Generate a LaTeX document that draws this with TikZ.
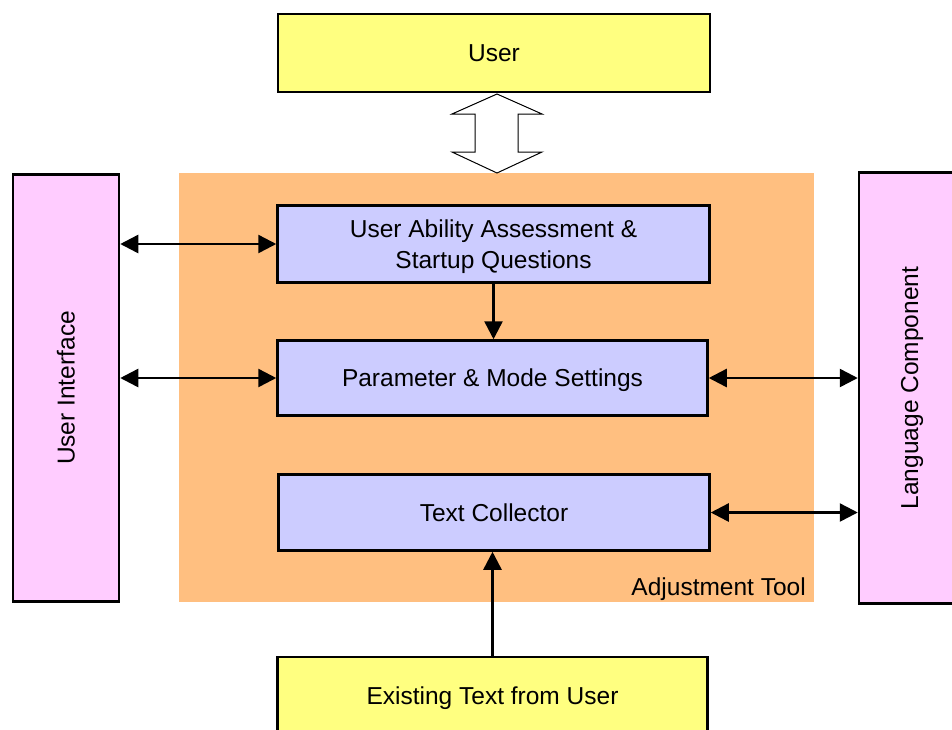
\documentclass[tikz,border=0pt]{standalone}
\usepackage{fontspec}
\setmainfont{Liberation Sans}
\usetikzlibrary{arrows.meta,calc}
\definecolor{userfill}{RGB}{255,255,128}
\definecolor{modfill}{RGB}{204,204,255}
\definecolor{sidefill}{RGB}{255,204,255}
\definecolor{toolfill}{RGB}{255,191,128}
\begin{document}
\begin{tikzpicture}[x=1pt,y=-1pt,
  box/.style={draw=black, line width=2.5pt, inner sep=0pt, align=center, text depth=0pt,
    font=\fontsize{24.5}{31}\selectfont},
  biarrow/.style={line width=2.5pt, {Triangle[length=18pt,width=18pt]}-{Triangle[length=18pt,width=18pt]}},
  onearrow/.style={line width=2.5pt, -{Triangle[length=18pt,width=18pt]}}
]
\useasboundingbox (0,0) rectangle (952,729);
\begin{scope}
\clip (0,0) rectangle (952,729);

% Adjustment tool area
\fill[toolfill] (179,173) rectangle (814,602);
\node[anchor=base east, inner sep=0pt, font=\fontsize{24.5}{31}\selectfont] (tooltitle) at (806,595) {Adjustment Tool};

% outer boxes
\node[box, fill=userfill, minimum width=432pt, minimum height=78pt] (user) at (494,53) {User};
\node[box, fill=userfill, minimum width=430pt, minimum height=78pt] (existing) at (492.5,696) {Existing Text from User};
\node[box, fill=sidefill, minimum width=106pt, minimum height=427pt] (ui) at (66,388) {\rotatebox{90}{User Interface}};
\node[box, fill=sidefill, minimum width=106pt, minimum height=431pt] (lang) at (912,388) {\rotatebox{90}{Language Component}};

% modules of the tool
\node[box, fill=modfill, minimum width=432pt, minimum height=77pt] (ability) at (493.5,244) {User Ability Assessment \&\\Startup Questions};
\node[box, fill=modfill, minimum width=430pt, minimum height=75pt] (param) at (492.5,378) {Parameter \& Mode Settings};
\node[box, fill=modfill, minimum width=431pt, minimum height=76pt] (collector) at (494,512.5) {Text Collector};

% connectors
\draw[biarrow] (ui.east |- ability.west) -- (ability.west);
\draw[biarrow] (ui.east |- param.west) -- (param.west);
\draw[biarrow] (param.east) -- (lang.west |- param.east);
\draw[biarrow] (collector.east) -- (lang.west |- collector.east);
\draw[onearrow] (ability.south) -- (ability.south |- param.north);
\draw[onearrow] (existing.north) -- (existing.north |- collector.south);

% hollow double arrow between the user and the tool
\coordinate (dbl) at (497,133.5);
\draw[black, line width=1pt, fill=white, line join=miter]
  ($(dbl)+(0,-39.5)$) -- ++(45,20) -- ++(-24,0) -- ++(0,38) -- ++(24,0)
  -- ++(-45,21) -- ++(-45,-21) -- ++(23,0) -- ++(0,-38) -- ++(-23,0) -- cycle;
\end{scope}
\end{tikzpicture}
\end{document}
